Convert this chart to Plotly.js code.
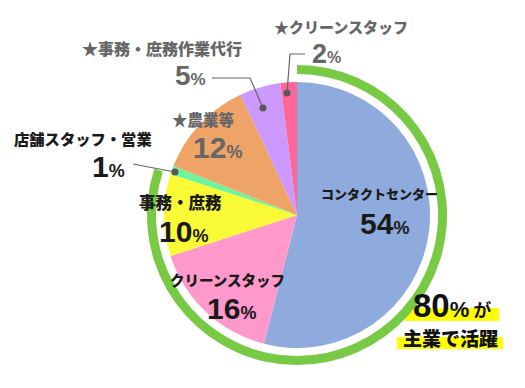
<!DOCTYPE html>
<html><head><meta charset="utf-8">
<script src="https://cdn.plot.ly/plotly-3.0.1.min.js"></script>
<style>html,body{margin:0;padding:0;background:#fff}#c{width:525px;height:388px}</style>
</head><body><div id="c"></div>
<script>
const categories = ['コンタクトセンター','クリーンスタッフ','事務・庶務','店舗スタッフ・営業','★農業等','★事務・庶務作業代行','★クリーンスタッフ'];
const shares = [54, 16, 10, 1, 12, 5, 2];
const sliceColors = ['#8FAADC','#FF99CC','#FAFA37','#6CF59A','#EEA466','#CC99FF','#FF6699'];
const ringLabels = ['主業','その他'];
const ringShares = [80, 20];
const headline = ['80', '%', 'が'];
const subline = '主業で活躍';

const W = 525, H = 388;
const fx = x => x / W, fy = y => 1 - y / H;

// layout positions (pixels) for labels
const cx = 297, cy = 215, R = 133, RR = 150;
const labelPos = [[379,193],[227,279],[180,202],[83,138],[203,119],[162,48],[341,27]];
const numPos   = [[384,224],[231,308],[183,231],[108,166],[217,147],[190,76],[326,54]];
const numSize  = [30,30,30,30,30,28,27];
const labelCol = ['#1a1a1a','#1a1a1a','#1a1a1a','#1a1a1a','#666666','#666666','#666666'];
const labelSize = [13,14.5,16.5,15.3,15.5,16,15];

const FAM = 'Noto Sans CJK JP';
const NUMFAM = 'Liberation Sans';
const annotations = [];
categories.forEach((c,i)=>{
  annotations.push({x:fx(labelPos[i][0]), y:fy(labelPos[i][1]), xref:'paper', yref:'paper',
    text:c, showarrow:false, xanchor:'center', yanchor:'middle',
    font:{family:FAM, size:labelSize[i], color:labelCol[i], weight:900}});
  annotations.push({x:fx(numPos[i][0]), y:fy(numPos[i][1]), xref:'paper', yref:'paper',
    text: shares[i] + "<span style='font-size:" + Math.round(numSize[i]*0.6) + "px'>%</span>", showarrow:false, xanchor:'center', yanchor:'middle',
    font:{family:NUMFAM, size:numSize[i], color:labelCol[i], weight:700}});
});
annotations.push({x:fx(452), y:fy(305), xref:'paper', yref:'paper',
  text: headline[0] + "<span style='font-size:22px'>" + headline[1] + "</span><span style='font-size:18px;font-family:Noto Sans CJK JP'> " + headline[2] + "</span>",
  showarrow:false, xanchor:'center', yanchor:'middle',
  font:{family:NUMFAM, size:33, color:'#111', weight:700}});
annotations.push({x:fx(450), y:fy(337), xref:'paper', yref:'paper', text: subline,
  showarrow:false, xanchor:'center', yanchor:'middle',
  font:{family:FAM, size:19, color:'#111', weight:900}});

const lineStyle = {color:'#666666', width:1.2};
const shapes = [
  {type:'rect', xref:'paper', yref:'paper', x0:fx(405), x1:fx(499), y0:fy(321), y1:fy(308), fillcolor:'#FFFF00', line:{width:0}, layer:'below'},
  {type:'rect', xref:'paper', yref:'paper', x0:fx(397), x1:fx(503), y0:fy(349), y1:fy(337), fillcolor:'#FFFF00', line:{width:0}, layer:'below'},
  // leader lines
  {type:'path', xref:'paper', yref:'paper', path:`M ${fx(133)} ${fy(164)} L ${fx(175)} ${fy(172)}`, line:lineStyle},
  {type:'path', xref:'paper', yref:'paper', path:`M ${fx(212)} ${fy(78)} L ${fx(250)} ${fy(78)} L ${fx(263)} ${fy(108)}`, line:lineStyle},
  {type:'path', xref:'paper', yref:'paper', path:`M ${fx(305)} ${fy(54)} L ${fx(290)} ${fy(54)} L ${fx(287)} ${fy(93)}`, line:lineStyle},
];
[[175,172],[263,108],[287,93]].forEach(p=>{
  shapes.push({type:'circle', xref:'paper', yref:'paper', x0:fx(p[0]-3.5), x1:fx(p[0]+3.5), y0:fy(p[1]+3.5), y1:fy(p[1]-3.5), fillcolor:'#595959', line:{width:0}});
});

const data = [
  {type:'pie', labels:ringLabels, values:ringShares, sort:false, direction:'clockwise', rotation:0,
   hole:141/150, marker:{colors:['#78C943','rgba(0,0,0,0)'], line:{width:0}}, textinfo:'none', hoverinfo:'skip',
   domain:{x:[fx(cx-RR), fx(cx+RR)], y:[fy(cy+RR), fy(cy-RR)]}, showlegend:false},
  {type:'pie', labels:categories, values:shares, sort:false, direction:'clockwise', rotation:0,
   marker:{colors:sliceColors, line:{width:0}}, textinfo:'none', hoverinfo:'skip',
   domain:{x:[fx(cx-R), fx(cx+R)], y:[fy(cy+R), fy(cy-R)]}, showlegend:false}
];
const layout = {width:W, height:H, margin:{l:0,r:0,t:0,b:0}, paper_bgcolor:'#fff', plot_bgcolor:'#fff',
  showlegend:false, annotations, shapes};
Plotly.newPlot('c', data, layout, {staticPlot:true});
</script></body></html>
